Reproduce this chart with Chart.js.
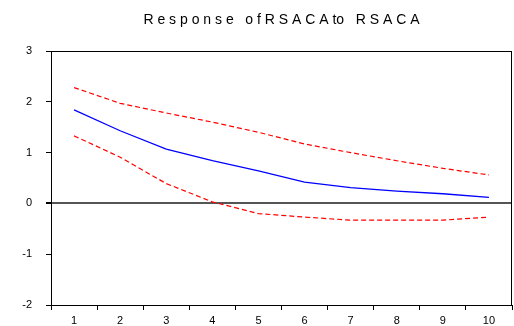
<!DOCTYPE html>
<html>
<head>
<meta charset="utf-8">
<script src="https://cdn.jsdelivr.net/npm/chart.js@4/dist/chart.umd.min.js"></script>
<style>
  html, body { margin: 0; padding: 0; background: #fff; }
  #wrap { width: 514px; height: 326px; }
</style>
</head>
<body>
<div id="wrap"><canvas id="irf"></canvas></div>
<script>
// Дані графіка
const periods = ['1', '2', '3', '4', '5', '6', '7', '8', '9', '10'];
const response = [1.84, 1.43, 1.07, 0.84, 0.64, 0.42, 0.31, 0.24, 0.19, 0.12];
const upperBand = [2.28, 1.97, 1.78, 1.60, 1.40, 1.17, 1.00, 0.84, 0.69, 0.56];
const lowerBand = [1.33, 0.91, 0.39, 0.03, -0.20, -0.27, -0.33, -0.33, -0.33, -0.27];
const yTicks = [-2, -1, 0, 1, 2, 3];
const titleText = 'R e s p o n s e   o f R S A C A to   R S A C A';

// Рамка навколо області графіка та заголовок
const framePlugin = {
    id: 'frame',
    afterDraw(chart) {
        const { ctx, chartArea } = chart;
        ctx.save();
        ctx.strokeStyle = '#000';
        ctx.lineWidth = 1;
        ctx.strokeRect(chartArea.left + 0.5, chartArea.top + 0.5,
            chartArea.right - chartArea.left - 1, chartArea.bottom - chartArea.top);
        ctx.fillStyle = '#000';
        ctx.font = '14px "Liberation Sans", Arial, sans-serif';
        ctx.textAlign = 'center';
        ctx.textBaseline = 'middle';
        ctx.fillText(titleText, (chartArea.left + chartArea.right) / 2, 20);
        ctx.restore();
    }
};

const ctx = document.getElementById('irf').getContext('2d');
new Chart(ctx, {
    type: 'line',
    data: {
        labels: periods,
        datasets: [
            {
                label: 'Response',
                data: response,
                borderColor: '#0000ff',
                borderWidth: 1.3,
                pointRadius: 0,
                tension: 0
            },
            {
                label: 'Upper',
                data: upperBand,
                borderColor: '#ff0000',
                borderWidth: 1.2,
                borderDash: [5, 3],
                pointRadius: 0,
                tension: 0
            },
            {
                label: 'Lower',
                data: lowerBand,
                borderColor: '#ff0000',
                borderWidth: 1.2,
                borderDash: [5, 3],
                pointRadius: 0,
                tension: 0
            }
        ]
    },
    options: {
        responsive: true,
        maintainAspectRatio: false,
        animation: false,
        layout: { padding: { top: 51, right: 2, left: 0, bottom: 0 } },
        plugins: {
            legend: { display: false },
            title: { display: false },
            tooltip: { enabled: false }
        },
        scales: {
            x: {
                offset: true,
                grid: {
                    offset: true,
                    drawOnChartArea: false,
                    drawTicks: true,
                    tickLength: 5,
                    tickColor: '#000'
                },
                border: { color: '#000', width: 1 },
                ticks: {
                    color: '#000',
                    padding: 4,
                    maxRotation: 0,
                    font: { family: '"Liberation Sans", Arial, sans-serif', size: 11 }
                },
                afterFit(scale) { scale.height = 21; }
            },
            y: {
                min: -2,
                max: 3,
                afterBuildTicks(scale) {
                    scale.ticks = yTicks.map(v => ({ value: v }));
                },
                grid: {
                    drawTicks: true,
                    tickLength: 5,
                    tickColor: '#000',
                    color: c => c.tick && c.tick.value === 0 ? '#555' : 'rgba(0,0,0,0)',
                    lineWidth: c => c.tick && c.tick.value === 0 ? 2 : 1
                },
                border: { color: '#000', width: 1 },
                ticks: {
                    color: '#000',
                    padding: 14,
                    font: { family: '"Liberation Sans", Arial, sans-serif', size: 11 }
                },
                afterFit(scale) { scale.width = 51; }
            }
        }
    },
    plugins: [framePlugin]
});
</script>
</body>
</html>
